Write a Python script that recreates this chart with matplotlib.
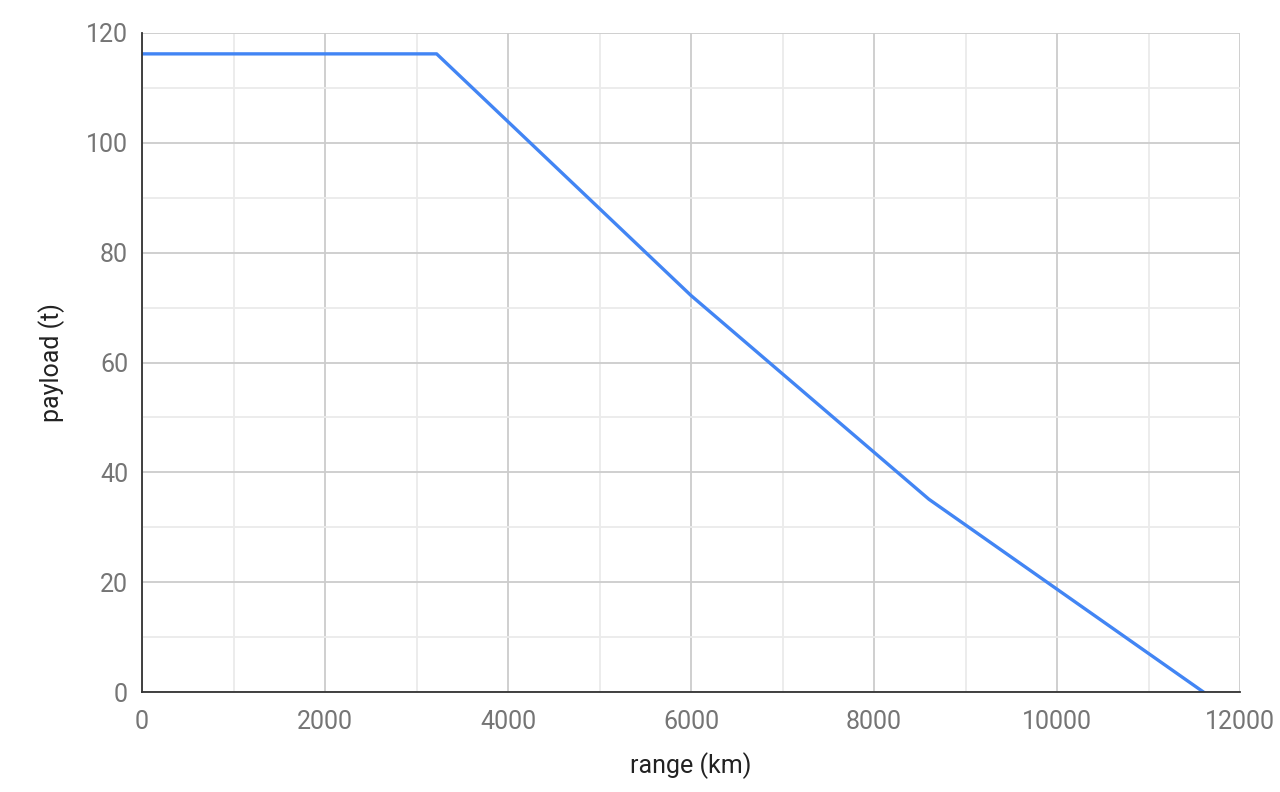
import matplotlib.pyplot as plt
from matplotlib.ticker import MultipleLocator

plt.rcParams['font.family'] = ['Roboto', 'DejaVu Sans']

range_km = [0, 3220, 6000, 8600, 11600]
payload_t = [116.2, 116.2, 72.2, 35.1, 0]

fig = plt.figure(figsize=(12.8, 7.92), dpi=100)
ax = fig.add_axes([142/1280, 100/792, 1098/1280, 659/792])

ax.plot(range_km, payload_t, color='#4285F4', linewidth=2.4, solid_joinstyle='round', zorder=3)

ax.set_xlim(0, 12000)
ax.set_ylim(0, 120)
ax.xaxis.set_major_locator(MultipleLocator(2000))
ax.xaxis.set_minor_locator(MultipleLocator(1000))
ax.yaxis.set_major_locator(MultipleLocator(20))
ax.yaxis.set_minor_locator(MultipleLocator(10))

ax.grid(which='major', color='#cccccc', linewidth=1.3)
ax.grid(which='minor', color='#ebebeb', linewidth=1.3)
ax.set_axisbelow(True)

for s in ['top', 'right']:
    ax.spines[s].set_visible(False)
for s in ['left', 'bottom']:
    ax.spines[s].set_color('#333333')
    ax.spines[s].set_linewidth(1.3)
    ax.spines[s].set_zorder(4)

ax.tick_params(which='both', length=0, labelsize=18, labelcolor='#757575')
ax.tick_params(axis='x', pad=13)
ax.tick_params(axis='y', pad=10)

ax.set_xlabel('range (km)', fontsize=18, color='#222222', labelpad=13)
ax.set_ylabel('payload (t)', fontsize=18, color='#222222', labelpad=15)

fig.savefig('out.png', dpi=100, facecolor='white')
